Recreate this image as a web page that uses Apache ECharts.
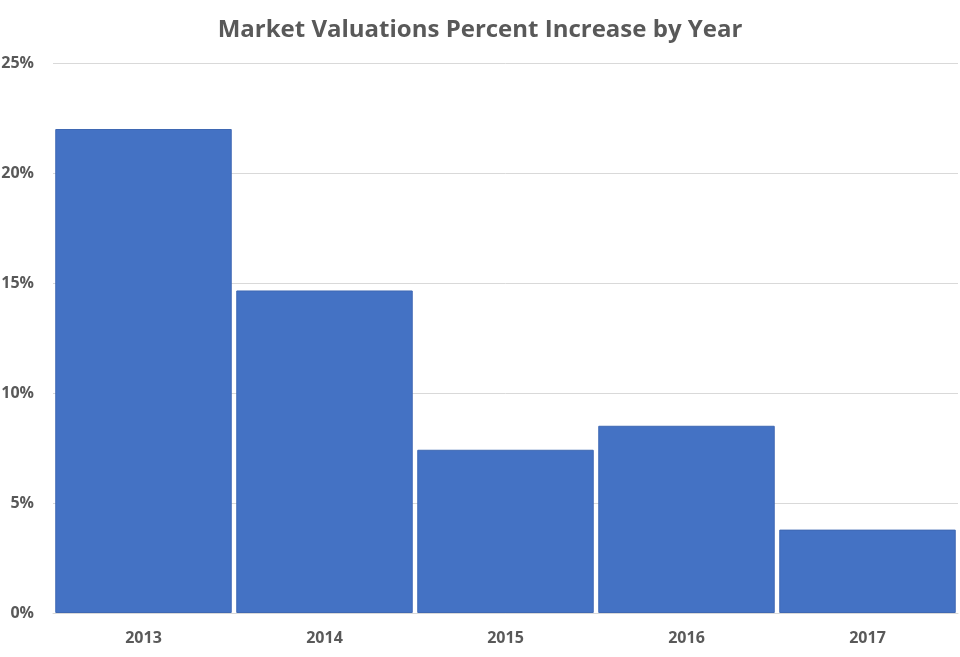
<!DOCTYPE html>
<html>
<head>
<meta charset="utf-8">
<script src="https://cdn.jsdelivr.net/npm/echarts@6/dist/echarts.min.js"></script>
<style>
  html, body { margin: 0; padding: 0; background: #fff; }
  #main { width: 960px; height: 657px; }
</style>
</head>
<body>
<div id="main"></div>
<script>
var years = ['2013', '2014', '2015', '2016', '2017'];
var increase = [22.0, 14.66, 7.42, 8.51, 3.79];
var yTicks = [0, 5, 10, 15, 20, 25];

var myChart = echarts.init(document.getElementById('main'));

var option = {
  backgroundColor: '#fff',
  title: {
    text: 'Market Valuations Percent Increase by Year',
    left: 'center',
    top: 13,
    textStyle: {
      fontFamily: 'Open Sans',
      fontWeight: 'bold',
      fontSize: 24,
      color: '#595959'
    }
  },
  grid: { left: 53, right: 2, top: 63, bottom: 44, outerBoundsMode: 'none' },
  xAxis: {
    type: 'category',
    data: years,
    axisTick: { show: false },
    axisLine: { lineStyle: { color: '#d9d9d9' } },
    axisLabel: {
      margin: 17,
      fontFamily: 'Open Sans',
      fontWeight: 'bold',
      fontSize: 16,
      color: '#595959'
    }
  },
  yAxis: {
    type: 'value',
    min: yTicks[0],
    max: yTicks[yTicks.length - 1],
    interval: 5,
    axisLine: { show: false },
    axisTick: { show: false },
    splitLine: { lineStyle: { color: '#d9d9d9' } },
    axisLabel: {
      margin: 19,
      fontFamily: 'Open Sans',
      fontWeight: 'bold',
      fontSize: 16,
      color: '#595959',
      formatter: '{value}%'
    }
  },
  series: [{
    type: 'bar',
    data: increase,
    barCategoryGap: '2.5%',
    itemStyle: { color: '#4472c4', borderColor: '#3f68b3', borderWidth: 1 }
  }]
};

myChart.setOption(option);
</script>
</body>
</html>
